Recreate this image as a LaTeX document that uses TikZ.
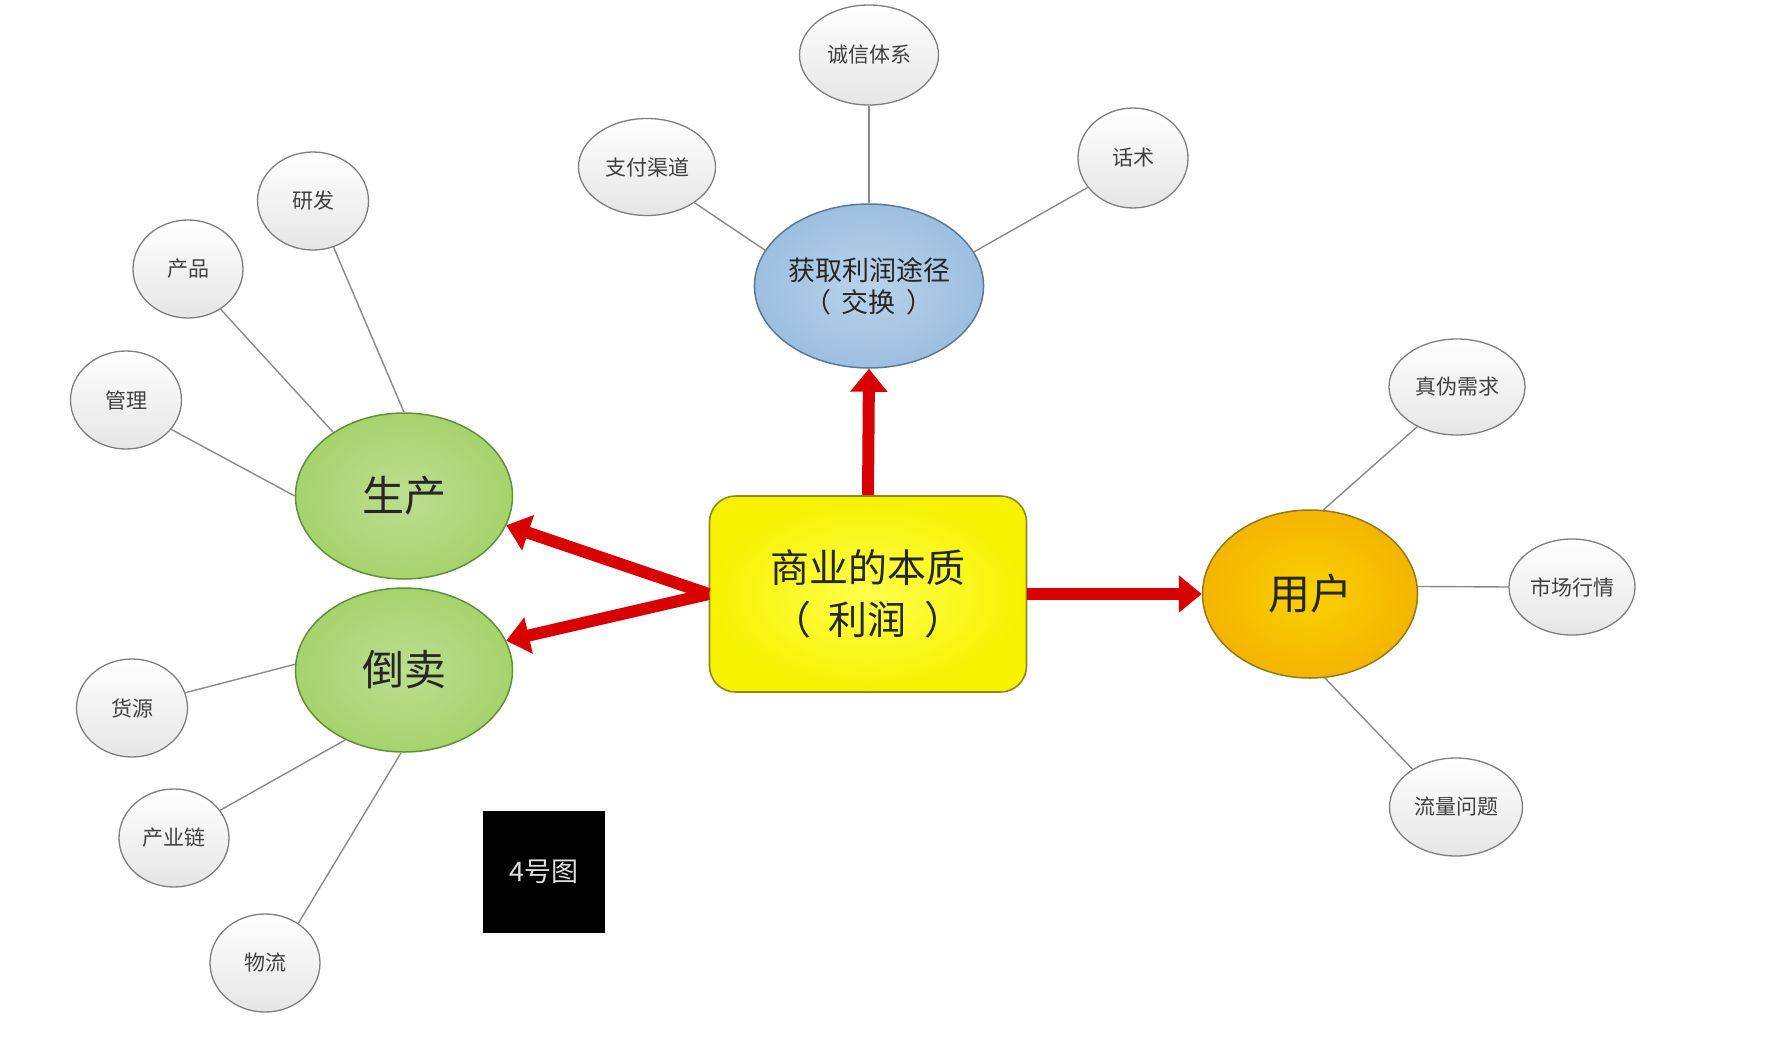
\documentclass[tikz,border=0pt]{standalone}
\usepackage{fontspec}
\setmainfont{Noto Sans CJK SC}
\usetikzlibrary{shapes.geometric,arrows.meta}
\definecolor{boxyellow}{HTML}{F6F200}
\definecolor{boxedge}{HTML}{8E8A1E}
\definecolor{bluefill}{HTML}{9CBFE0}
\definecolor{blueedge}{HTML}{5D7895}
\definecolor{greenfill}{HTML}{A6D36C}
\definecolor{greenedge}{HTML}{62903A}
\definecolor{orangefill}{HTML}{F5B400}
\definecolor{orangeedge}{HTML}{8F7A1C}
\definecolor{arrowred}{HTML}{D80000}
\definecolor{linkgray}{HTML}{8A8A8A}
\definecolor{leafedge}{HTML}{7F7F7F}
\begin{document}
\begin{tikzpicture}[x=1pt,y=-1pt,
  leaf/.style={ellipse, draw=leafedge, line width=1.3pt, top color=white, bottom color=black!10,
    inner sep=0pt, text=black!75, font=\fontsize{21}{24}\selectfont},
  mainbox/.style={rectangle, rounded corners=26pt, draw=boxedge, line width=1.6pt,
    inner color=yellow!70!white, outer color=boxyellow, minimum width=317pt, minimum height=196pt,
    align=center, text=black!85, font=\fontsize{39}{52}\selectfont},
  hub/.style={ellipse, line width=1.5pt, inner sep=0pt, align=center, text=black!85},
  link/.style={draw=linkgray, line width=1.4pt},
  redarrow/.style={draw=arrowred, line width=12pt, -{Triangle[width=36pt,length=23pt]}}
]
\useasboundingbox (0,0) rectangle (1774,1036);
\fill[white] (0,0) rectangle (1774,1036);

% hubs
\node[mainbox] (core) at (868,594) {商业的本质\\（\hspace{0.45em}利润\hspace{0.45em}）};
\node[hub, draw=blueedge, inner color=bluefill!70!white, outer color=bluefill,
  minimum width=215pt, minimum height=164pt, font=\fontsize{27}{32}\selectfont] (way) at (869,286) {获取利润途径\\（\hspace{0.4em}交换\hspace{0.4em}）};
\node[hub, draw=greenedge, inner color=greenfill!75!white, outer color=greenfill,
  minimum width=217pt, minimum height=166pt, font=\fontsize{42}{48}\selectfont] (prod) at (404,496) {生产};
\node[hub, draw=greenedge, inner color=greenfill!75!white, outer color=greenfill,
  minimum width=217pt, minimum height=164pt, font=\fontsize{42}{48}\selectfont] (resell) at (404,670) {倒卖};
\node[hub, draw=orangeedge, inner color=orangefill!60!yellow, outer color=orangefill,
  minimum width=215pt, minimum height=168pt, font=\fontsize{42}{48}\selectfont] (user) at (1310,594) {用户};

% leaves
\node[leaf, minimum width=137pt, minimum height=97pt] (zhifu) at (647,167) {支付渠道};
\node[leaf, minimum width=139pt, minimum height=100pt] (chengxin) at (869,55) {诚信体系};
\node[leaf, minimum width=110pt, minimum height=100pt] (huashu) at (1133,158) {话术};
\node[leaf, minimum width=111pt, minimum height=98pt] (yanfa) at (313,201) {研发};
\node[leaf, minimum width=110pt, minimum height=98pt] (chanpin) at (188,269) {产品};
\node[leaf, minimum width=111pt, minimum height=98pt] (guanli) at (126,400) {管理};
\node[leaf, minimum width=111pt, minimum height=98pt] (huoyuan) at (132,708) {货源};
\node[leaf, minimum width=110pt, minimum height=98pt] (chanye) at (174,838) {产业链};
\node[leaf, minimum width=110pt, minimum height=98pt] (wuliu) at (265,963) {物流};
\node[leaf, minimum width=136pt, minimum height=96pt] (zhenwei) at (1457,387) {真伪需求};
\node[leaf, minimum width=126pt, minimum height=96pt] (shichang) at (1572,587) {市场行情};
\node[leaf, minimum width=133pt, minimum height=98pt] (liuliang) at (1456,807) {流量问题};

% label box
\node[rectangle, fill=black, minimum width=122pt, minimum height=122pt, inner sep=0pt,
  text=white!88!black, font=\fontsize{27}{30}\selectfont] (tag) at (544,872) {4号图};

% links
\draw[link] (chengxin.south) -- (way.north);
\draw[link] (zhifu.-37) -- (way.161);
\draw[link] (huashu.213) -- (way.18);
\draw[link] (yanfa.-66) -- (prod.90);
\draw[link] (chanpin.-51) -- (prod.138);
\draw[link] (guanli.-33) -- (prod.180);
\draw[link] (huoyuan.16) -- (resell.177);
\draw[link] (chanye.31) -- (resell.230);
\draw[link] (wuliu.50) -- (resell.268);
\draw[link] (zhenwei.225) -- (user.81);
\draw[link] (user.4) -- (shichang.west);
\draw[link] (liuliang.139) -- (user.280);

% red arrows
\draw[redarrow] (core.north) -- (way.south);
\draw[redarrow] (core.east) -- (user.west);
\draw[redarrow] (core.west) -- (prod.-16);
\draw[redarrow] (core.west) -- (resell.16);
\end{tikzpicture}
\end{document}
